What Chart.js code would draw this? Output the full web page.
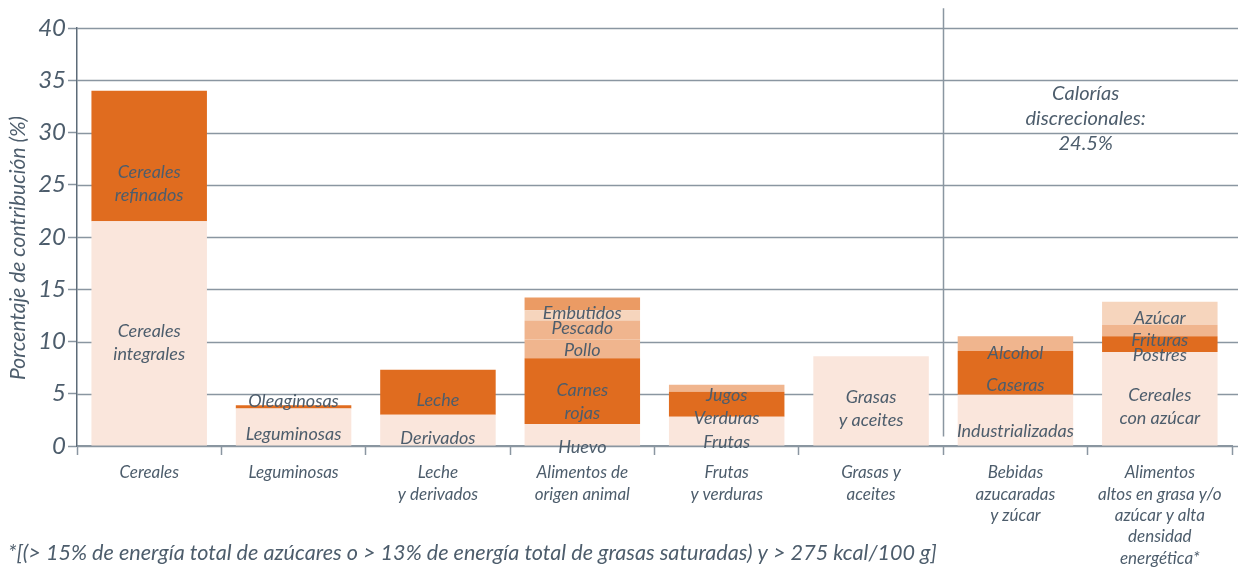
<!DOCTYPE html>
<html lang="es">
  <head>
    <title>Contribución calórica</title>
    <meta charset="UTF-8" />
    <script src="https://cdn.jsdelivr.net/npm/chart.js"></script>
    <style>
      html, body { margin: 0; padding: 0; background: #fff; }
      #wrap { width: 1238px; height: 571px; position: relative; }
    </style>
  </head>
  <body>
    <div id="wrap"><canvas id="chart"></canvas></div>

    <script>
      // categorías del eje x
      const categories = [
        'Cereales',
        'Leguminosas',
        ['Leche', 'y derivados'],
        ['Alimentos de', 'origen animal'],
        ['Frutas', 'y verduras'],
        ['Grasas y', 'aceites'],
        ['Bebidas', 'azucaradas', 'y zúcar'],
        ['Alimentos', 'altos en grasa y/o', 'azúcar y alta', 'densidad', 'energética*'],
      ];

      // capas apiladas (de abajo hacia arriba), % de contribución
      const layer1 = [21.5, 3.6, 3.0, 2.1, 2.8, 8.6, 4.9, 9.0];
      const layer2 = [12.5, 0.3, 4.3, 6.3, 2.4, 0, 4.2, 1.5];
      const layer3 = [0, 0, 0, 1.8, 0.65, 0, 1.4, 1.1];
      const layer4 = [0, 0, 0, 1.8, 0, 0, 0, 2.2];
      const layer5 = [0, 0, 0, 1.0, 0, 0, 0, 0];
      const layer6 = [0, 0, 0, 1.2, 0, 0, 0, 0];

      const yTicks = [0, 5, 10, 15, 20, 25, 30, 35, 40];

      // etiquetas dentro de las barras: [categoría, valor y, texto]
      const segmentLabels = [
        [0, 25.1, ['Cereales', 'refinados']],
        [0, 9.9, ['Cereales', 'integrales']],
        [1, 4.3, ['Oleaginosas']],
        [1, 1.15, ['Leguminosas']],
        [2, 4.4, ['Leche']],
        [2, 0.75, ['Derivados']],
        [3, 12.7, ['Embutidos']],
        [3, 11.3, ['Pescado']],
        [3, 9.2, ['Pollo']],
        [3, 4.2, ['Carnes', 'rojas']],
        [3, -0.1, ['Huevo']],
        [4, 4.9, ['Jugos']],
        [4, 2.7, ['Verduras']],
        [4, 0.4, ['Frutas']],
        [5, 3.55, ['Grasas', 'y aceites']],
        [6, 8.9, ['Alcohol']],
        [6, 5.85, ['Caseras']],
        [6, 1.45, ['Industrializadas']],
        [7, 12.25, ['Azúcar']],
        [7, 10.15, ['Frituras']],
        [7, 8.7, ['Postres']],
        [7, 3.8, ['Cereales', 'con azúcar']],
      ];

      const discretionary = ['Calorías', 'discrecionales:', '24.5%'];
      const footnote =
        '*[(> 15% de energía total de azúcares o > 13% de energía total de grasas saturadas) y > 275 kcal/100 g]';

      // colores
      const PALE = '#fae6dc';
      const ORANGE = '#e06c1f';
      const LIGHT = '#f0b58e';
      const PEACH = '#f6d5bd';
      const MEDIUM = '#eb9b64';
      const TEXT = '#4d5d6c';
      const GRID = '#8a96a1';
      const FONT = 'Lato, "Open Sans", sans-serif';

      const fill = (c) => categories.map(() => c);

      const datasets = [
        { data: layer1, backgroundColor: fill(PALE) },
        { data: layer2, backgroundColor: fill(ORANGE) },
        { data: layer3, backgroundColor: fill(LIGHT) },
        { data: layer4, backgroundColor: [PALE, PALE, PALE, LIGHT, PALE, PALE, PALE, PEACH] },
        { data: layer5, backgroundColor: fill(PEACH) },
        { data: layer6, backgroundColor: fill(MEDIUM) },
      ].map((d) => ({
        ...d,
        borderWidth: 0,
        barPercentage: 0.8,
        categoryPercentage: 1.0,
      }));

      // rejilla horizontal (llega hasta el borde derecho)
      const gridPlugin = {
        id: 'gridLines',
        beforeDatasetsDraw(chart) {
          const { ctx, chartArea, scales } = chart;
          ctx.save();
          ctx.strokeStyle = GRID;
          ctx.lineWidth = 1.5;
          yTicks.forEach((v) => {
            const y = Math.round(scales.y.getPixelForValue(v)) + 0.5;
            ctx.beginPath();
            ctx.moveTo(chartArea.left, y);
            ctx.lineTo(chart.width, y);
            ctx.stroke();
          });
          ctx.restore();
        },
      };

      const textPlugin = {
        id: 'texts',
        afterDraw(chart) {
          const { ctx, scales } = chart;
          const x = scales.x;
          const y = scales.y;
          ctx.save();

          // separador de calorías discrecionales
          ctx.strokeStyle = GRID;
          ctx.lineWidth = 1.5;
          const sx = Math.round(x.getPixelForValue(5.5)) + 0.5;
          ctx.beginPath();
          ctx.moveTo(sx, y.getPixelForValue(41.9));
          ctx.lineTo(sx, y.getPixelForValue(0.9));
          ctx.stroke();

          ctx.fillStyle = TEXT;
          ctx.textAlign = 'center';
          ctx.textBaseline = 'middle';

          // etiquetas dentro de las barras
          ctx.font = 'italic 18px ' + FONT;
          segmentLabels.forEach(([c, v, lines]) => {
            const cx = x.getPixelForValue(c);
            const cy = y.getPixelForValue(v);
            const lh = 23;
            lines.forEach((t, i) => {
              ctx.fillText(t, cx, cy + (i - (lines.length - 1) / 2) * lh);
            });
          });

          // calorías discrecionales
          ctx.font = 'italic 20px ' + FONT;
          const dx = x.getPixelForValue(6.5) - 2;
          const dy = y.getPixelForValue(31.3);
          discretionary.forEach((t, i) => {
            ctx.fillText(t, dx, dy + (i - 1) * 25);
          });

          // título eje y
          ctx.font = 'italic 21px ' + FONT;
          ctx.translate(18, (chart.chartArea.top + chart.chartArea.bottom) / 2 + 11);
          ctx.rotate(-Math.PI / 2);
          ctx.fillText('Porcentaje de contribución (%)', 0, 0);
          ctx.setTransform(1, 0, 0, 1, 0, 0);

          // nota al pie
          ctx.font = 'italic 21.6px ' + FONT;
          ctx.textAlign = 'left';
          ctx.fillText(footnote, 8, 553);
          ctx.restore();
        },
      };

      const ctx = document.getElementById('chart').getContext('2d');
      const chart = new Chart(ctx, {
        type: 'bar',
        data: { labels: categories, datasets: datasets },
        options: {
          responsive: true,
          maintainAspectRatio: false,
          animation: false,
          layout: { padding: { top: 28, right: 6, left: 0, bottom: 0 } },
          plugins: { legend: { display: false }, tooltip: { enabled: false } },
          scales: {
            x: {
              stacked: true,
              afterFit: (s) => { s.height = 125; },
              grid: {
                offset: true,
                drawOnChartArea: false,
                tickLength: 9,
                tickWidth: 1.5,
                color: GRID,
              },
              border: { color: GRID, width: 1.5 },
              ticks: {
                color: TEXT,
                font: { family: FONT, size: 17, style: 'italic', lineHeight: 1.26 },
                padding: 7,
                maxRotation: 0,
                autoSkip: false,
              },
            },
            y: {
              stacked: true,
              min: 0,
              max: 40,
              afterFit: (s) => { s.width = 77; },
              grid: {
                drawOnChartArea: false,
                tickLength: 9,
                tickWidth: 1.5,
                color: GRID,
              },
              border: { color: '#5d6b78', width: 1.5 },
              ticks: {
                stepSize: 5,
                color: TEXT,
                padding: 2,
                font: { family: FONT, size: 24, style: 'italic' },
              },
            },
          },
        },
        plugins: [gridPlugin, textPlugin],
      });
    </script>
  </body>
</html>
